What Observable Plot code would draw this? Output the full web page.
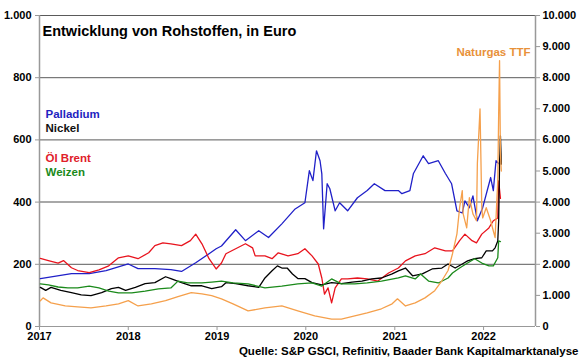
<!DOCTYPE html>
<html><head><meta charset="utf-8">
<script src="https://cdn.jsdelivr.net/npm/d3@7"></script>
<script src="https://cdn.jsdelivr.net/npm/@observablehq/plot@0.6"></script>
<style>body{margin:0;background:#fff;}</style>
</head><body><div id="chart"></div>
<script>
// Time in decimal years; values in Euro (left axis); gas in right-axis units
const palladiumT = [2017.01,2017.36,2017.56,2017.75,2018.00,2018.11,2018.30,2018.48,2018.60,2018.76,2018.91,2018.99,2019.05,2019.21,2019.32,2019.47,2019.58,2019.73,2019.88,2019.99,2020.04,2020.08,2020.12,2020.16,2020.18,2020.20,2020.24,2020.27,2020.33,2020.38,2020.47,2020.58,2020.69,2020.77,2020.89,2021.04,2021.08,2021.17,2021.21,2021.32,2021.38,2021.49,2021.57,2021.64,2021.70,2021.76,2021.79,2021.84,2021.88,2021.93,2021.99,2022.08,2022.11,2022.14,2022.17,2022.18];
const palladiumV = [154,170,170,180,201,186,186,183,177,205,234,250,259,311,276,308,286,330,378,398,501,469,565,533,491,314,459,443,372,398,372,414,437,459,437,437,427,437,492,549,524,533,492,459,372,365,404,382,420,340,382,479,437,533,524,523];

const brentT = [2017.01,2017.10,2017.21,2017.27,2017.36,2017.43,2017.56,2017.67,2017.78,2017.89,2018.00,2018.11,2018.23,2018.30,2018.39,2018.48,2018.60,2018.70,2018.76,2018.83,2018.91,2018.99,2019.05,2019.10,2019.21,2019.32,2019.40,2019.43,2019.54,2019.62,2019.69,2019.80,2019.91,2019.99,2020.07,2020.14,2020.18,2020.21,2020.25,2020.29,2020.33,2020.40,2020.47,2020.58,2020.69,2020.81,2020.93,2021.04,2021.12,2021.23,2021.34,2021.45,2021.57,2021.65,2021.73,2021.79,2021.87,2021.92,2021.98,2022.06,2022.11,2022.16,2022.17,2022.19];
const brentV = [219,212,204,212,189,180,173,182,195,221,227,218,237,260,269,266,260,276,297,266,218,185,204,234,250,266,253,227,227,218,237,227,234,250,227,201,156,104,124,76,124,153,153,156,153,146,172,188,211,227,234,253,243,243,276,297,276,269,297,317,340,349,468,412];

const nickelT = [2017.01,2017.07,2017.13,2017.24,2017.36,2017.47,2017.58,2017.70,2017.81,2017.89,2017.97,2018.08,2018.19,2018.30,2018.42,2018.48,2018.60,2018.71,2018.83,2018.94,2019.05,2019.10,2019.21,2019.35,2019.47,2019.54,2019.62,2019.68,2019.73,2019.79,2019.85,2019.91,2019.99,2020.07,2020.18,2020.29,2020.40,2020.52,2020.63,2020.74,2020.85,2020.97,2021.04,2021.12,2021.20,2021.31,2021.42,2021.53,2021.60,2021.68,2021.76,2021.82,2021.90,2021.98,2022.03,2022.10,2022.13,2022.16,2022.17,2022.18,2022.19,2022.20];
const nickelV = [126,116,126,116,109,102,99,109,122,126,116,126,138,141,160,154,141,131,131,122,128,141,138,131,126,156,179,195,188,188,169,154,154,141,134,141,138,143,146,153,156,169,179,188,163,169,185,188,201,188,201,211,218,221,243,243,253,275,340,523,613,522];

const weizenT = [2017.01,2017.10,2017.21,2017.32,2017.43,2017.56,2017.67,2017.78,2017.89,2018.04,2018.19,2018.34,2018.48,2018.56,2018.67,2018.83,2018.94,2019.05,2019.18,2019.35,2019.54,2019.73,2019.91,2020.07,2020.18,2020.29,2020.40,2020.55,2020.69,2020.85,2021.04,2021.12,2021.23,2021.29,2021.38,2021.49,2021.60,2021.65,2021.73,2021.82,2021.90,2021.98,2022.06,2022.11,2022.16,2022.17,2022.19];
const weizenV = [137,134,127,124,124,130,124,114,108,108,114,121,124,146,140,140,143,146,140,137,124,130,137,140,130,153,137,137,140,146,156,163,153,169,146,140,156,172,188,204,218,204,195,195,221,275,273];

const gasT = [2017.01,2017.04,2017.13,2017.29,2017.43,2017.58,2017.75,2017.89,2018.00,2018.11,2018.26,2018.42,2018.56,2018.71,2018.83,2018.94,2019.05,2019.18,2019.35,2019.54,2019.73,2019.91,2020.10,2020.29,2020.40,2020.55,2020.69,2020.85,2020.97,2021.03,2021.12,2021.23,2021.34,2021.45,2021.53,2021.60,2021.65,2021.70,2021.73,2021.76,2021.77,2021.81,2021.84,2021.88,2021.92,2021.93,2021.96,2021.98,2021.99,2022.03,2022.08,2022.11,2022.13,2022.16,2022.17,2022.18,2022.19,2022.20];
const gasV = [830,920,760,660,630,600,660,730,830,660,730,830,960,1090,1050,990,890,730,500,600,660,500,340,240,240,340,440,570,730,890,660,760,920,1150,1470,1800,2340,2980,3820,4370,3620,3170,4140,3620,3400,5240,7000,3820,3490,3820,3400,3070,2860,4690,6850,8550,5550,5000];

const leftTicks = [0,200,400,600,800,1000];
const rightTicks = [0,1000,2000,3000,4000,5000,6000,7000,8000,9000,10000];
const yearTicks = [2017,2018,2019,2020,2021,2022];

const title = "Entwicklung von Rohstoffen, in Euro";
const caption = "Quelle: S&P GSCI, Refinitiv, Baader Bank Kapitalmarktanalyse";

function toDate(y){ const yr=Math.floor(y); const s=Date.UTC(yr,0,1), e=Date.UTC(yr+1,0,1); return new Date(s+(y-yr)*(e-s)); }
const fmt = d3.formatLocale({decimal:",",thousands:".",grouping:[3],currency:["","€"]}).format(",");

function rows(T, V, name, scale=1){ return T.map((t,i)=>({date:toDate(t), value:V[i]/scale, series:name})); }
const series = [
  {data: rows(palladiumT, palladiumV, "Palladium"), color:"#2020c8"},
  {data: rows(brentT, brentV, "Öl Brent"), color:"#e8141e"},
  {data: rows(nickelT, nickelV, "Nickel"), color:"#000000"},
  {data: rows(weizenT, weizenV, "Weizen"), color:"#1b8a1b"},
  {data: rows(gasT, gasV, "Naturgas TTF", 10), color:"#f5a04c"}
];

const x0 = toDate(2017), x1 = toDate(2022.585);
const lab = (text, color, dy) => Plot.text([text], {frameAnchor:"top-left", dx:6, dy, fill:color, textAnchor:"start", fontSize:11.5, fontWeight:"bold"});

const chart = Plot.plot({
  width: 580, height: 359,
  marginLeft: 39, marginRight: 45, marginTop: 15, marginBottom: 33,
  style: {fontFamily: "'Liberation Sans', Arial, sans-serif", fontSize: "11px", fontWeight: "bold", background: "#fff", color: "#000"},
  x: {type: "utc", domain: [x0, x1], label: null},
  y: {domain: [0, 1000], label: null},
  marks: [
    Plot.ruleY([200,600,800,1000], {stroke:"#5a5a5a", strokeWidth:1}),
    Plot.ruleY([400], {stroke:"#a8a8a8", strokeWidth:2}),
    Plot.ruleY([0], {stroke:"#999", strokeWidth:1}),
    Plot.ruleX([x0, x1], {stroke:"#999", strokeWidth:1.5}),
    Plot.axisY({anchor:"left", ticks:leftTicks, tickFormat:fmt, tickSize:4, tickPadding:4, stroke:"#999", fill:"#000", fontSize:11, label:null}),
    Plot.axisY({anchor:"right", ticks:rightTicks.map(d=>d/10), tickFormat:d=>fmt(Math.round(d*10)), tickSize:4, tickPadding:3, stroke:"#999", fill:"#000", fontSize:11, label:null}),
    Plot.axisX({ticks:yearTicks.map(y=>toDate(y)), tickFormat:d=>String(d.getUTCFullYear()), tickSize:4, tickPadding:2, stroke:"#999", fill:"#000", fontSize:11, label:null}),
    ...series.map(s => Plot.line(s.data, {x:"date", y:"value", stroke:s.color, strokeWidth:1.3})),
    Plot.text([title], {frameAnchor:"top-left", dx:3, dy:10, textAnchor:"start", fontSize:14.5, fontWeight:"bold", fill:"#000"}),
    lab("Palladium", "#1f1fbf", 94),
    lab("Nickel", "#111", 108),
    lab("Öl Brent", "#e0202a", 138),
    lab("Weizen", "#1b8a1b", 152),
    Plot.text(["Naturgas TTF"], {frameAnchor:"top-right", dx:-5, dy:32, textAnchor:"end", fill:"#e8913a", fontSize:11.5, fontWeight:"bold"}),
    Plot.text([caption], {frameAnchor:"bottom-right", dx:43, dy:28, textAnchor:"end", fill:"#000", fontSize:11.5, fontWeight:"bold"})
  ]
});
document.getElementById("chart").appendChild(chart);
</script>
</body></html>
